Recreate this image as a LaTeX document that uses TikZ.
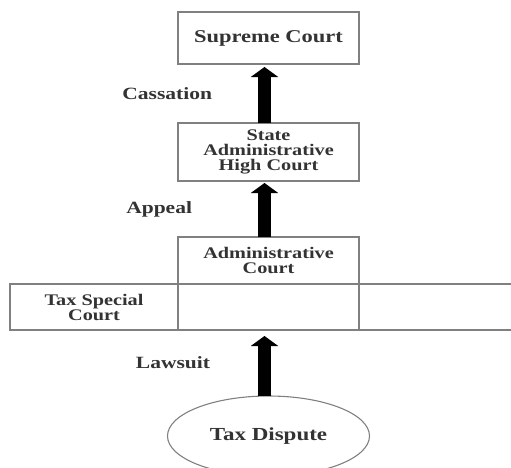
\documentclass[tikz,border=0pt]{standalone}
\usepackage{fontspec}
\setmainfont[FakeStretch=1.25]{Liberation Serif}
\usetikzlibrary{positioning}
\usetikzlibrary{arrows.meta}
\usetikzlibrary{shapes.geometric}
\tikzset{
court/.style={
  rectangle,
  inner sep=0pt,
  outer sep=0pt,
  minimum width=181pt,
  align=center,
  draw=black!50,
  line width=1.1pt,
  text=black!80,
  font=\bfseries\fontsize{16.2}{15}\selectfont
  },
lbl/.style={
  inner sep=0pt,
  text=black!80,
  font=\bfseries\fontsize{17.2}{18}\selectfont
  },
blk/.style={
  -{Triangle[width=27pt,length=10pt]},
  line width=13pt,
  black
  }
}
\begin{document}
\begin{tikzpicture}
    \clip (0,0) rectangle (511pt,-467pt);
    \node[court,minimum height=52pt,font=\bfseries\fontsize{18}{18}\selectfont] (supreme) at (268.5pt,-38pt) {Supreme Court};
    \node[court,minimum height=58pt] (state) [below=59pt of supreme] {State\\Administrative\\High Court};
    \node[court,minimum height=47pt] (admin) [below=56pt of state] {Administrative\\Court};
    \node[court,minimum height=46pt] (adminlow) [below=0pt of admin] {};
    \node[court,minimum height=46pt,minimum width=168pt] (taxcourt) [left=0pt of adminlow] {Tax Special\\Court};
    \node[court,minimum height=46pt,minimum width=200pt] (rest) [right=0pt of adminlow] {};
    \node[court,ellipse,minimum width=202pt,minimum height=80pt,font=\bfseries\fontsize{18.4}{18}\selectfont] (dispute) [below=66pt of adminlow] {Tax Dispute};
    \path
    ([xshift=-4pt]state.north) edge [blk,shorten >=3pt] node [lbl,left=46pt] {Cassation} ([xshift=-4pt]supreme.south)
    ([xshift=-4pt]admin.north) edge [blk,shorten >=2pt] node [lbl,left=66pt] {Appeal} ([xshift=-4pt]state.south)
    ([xshift=-4pt]dispute.north) edge [blk,shorten >=6pt] node [lbl,left=48pt] {Lawsuit} ([xshift=-4pt]adminlow.south)
    ;
\end{tikzpicture}
\end{document}
